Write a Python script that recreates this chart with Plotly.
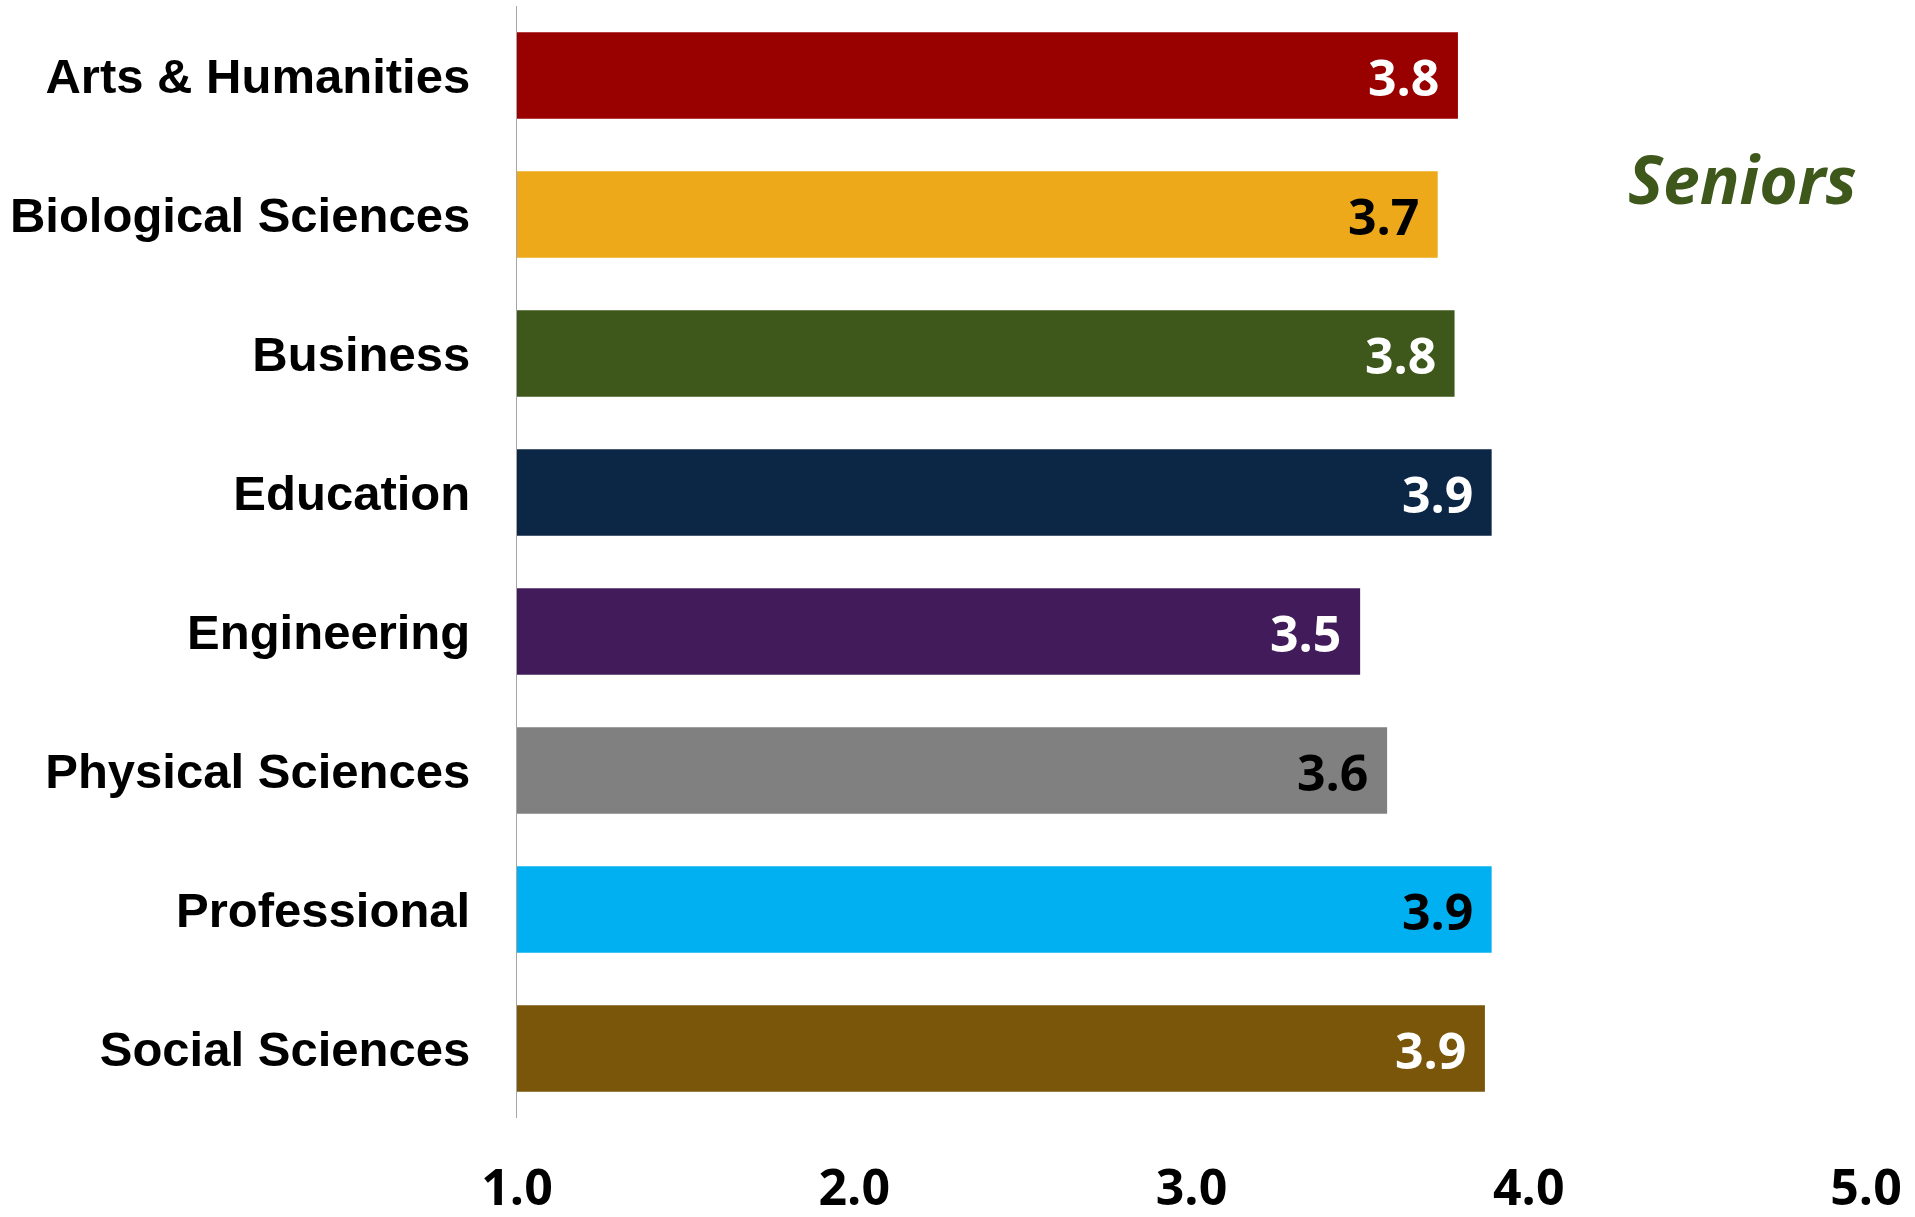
import plotly.graph_objects as go

categories = [
    "Arts & Humanities",
    "Biological Sciences",
    "Business",
    "Education",
    "Engineering",
    "Physical Sciences",
    "Professional",
    "Social Sciences",
]
means = [3.79, 3.73, 3.78, 3.89, 3.50, 3.58, 3.89, 3.87]
bar_colors = ["#990000", "#EDA919", "#3E571B", "#0C2646", "#421C5A", "#808080", "#00B0F0", "#7A560A"]
label_colors = ["white", "black", "white", "white", "white", "black", "black", "white"]
x_ticks = [1.0, 2.0, 3.0, 4.0, 5.0]
x_tick_labels = ["1.0", "2.0", "3.0", "4.0", "5.0"]

W, H = 1915, 1217
M_L, M_R, M_T, M_B = 517, 49, 6, 99

fig = go.Figure()
fig.add_trace(go.Bar(
    x=[m - 1.0 for m in means],
    base=1.0,
    y=categories,
    orientation="h",
    marker=dict(color=bar_colors, line=dict(width=0)),
    hoverinfo="skip",
))

# value labels inside the bar ends
for cat, val, col in zip(categories, means, label_colors):
    fig.add_annotation(
        x=val, y=cat, xref="x", yref="y",
        text=f"{val:.1f}",
        showarrow=False,
        xanchor="right", yanchor="middle",
        xshift=-17, yshift=-1,
        font=dict(family="Open Sans", size=50, color=col, weight="bold"),
    )

# "Seniors" tag on the right
fig.add_annotation(
    x=(1742 - M_L) / (W - M_L - M_R), y=1 - (178 - M_T) / (H - M_T - M_B),
    xref="paper", yref="paper",
    xanchor="center", yanchor="middle",
    text="<b><i>Seniors</i></b>",
    showarrow=False,
    font=dict(family="Open Sans", size=66, color="#3E571B"),
)

fig.update_layout(
    width=W,
    height=H,
    paper_bgcolor="white",
    plot_bgcolor="white",
    margin=dict(l=M_L, r=M_R, t=M_T, b=M_B),
    bargap=0.376,
    showlegend=False,
    xaxis=dict(
        range=[1.0, 5.0],
        tickvals=x_ticks,
        ticktext=x_tick_labels,
        showgrid=False,
        zeroline=False,
        showline=False,
        ticks="",
        automargin=False,
        ticklabelstandoff=36,
        tickfont=dict(family="Open Sans", size=50, color="black", weight="bold"),
    ),
    yaxis=dict(
        categoryorder="array",
        categoryarray=categories,
        autorange="reversed",
        showgrid=False,
        zeroline=False,
        showline=True,
        linecolor="#A6A6A6",
        linewidth=1,
        ticks="",
        automargin=False,
        ticklabelstandoff=36,
        tickfont=dict(family="Liberation Sans", size=49, color="black", weight="bold"),
    ),
)

# the page's default body margin would push the fixed-size figure off the window
fig.write_html(
    "out.html",
    config={"displayModeBar": False},
    post_script="document.body.style.margin='0';document.body.style.overflow='hidden';",
)
